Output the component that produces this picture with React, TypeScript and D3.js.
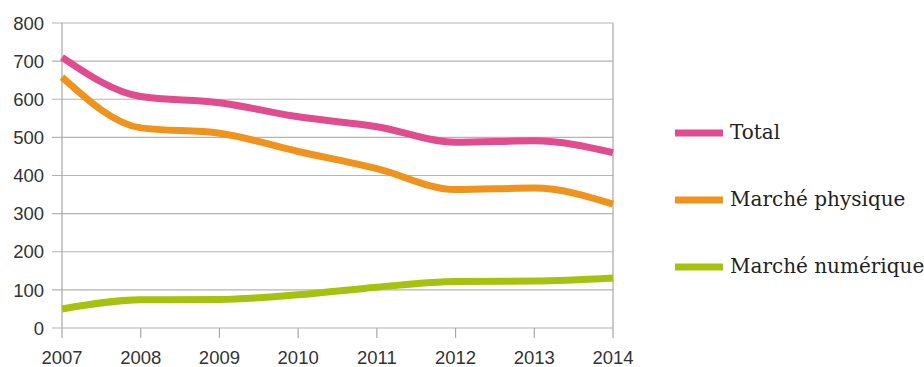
import React, { useEffect, useRef } from 'react';
import * as d3 from 'd3';

const years = [2007, 2008, 2009, 2010, 2011, 2012, 2013, 2014];
const total = [710, 607, 591, 554, 528, 487, 491, 460];
const physique = [658, 525, 511, 463, 418, 363, 367, 325];
const numerique = [50, 74, 75, 87, 107, 122, 123, 131];
const yTicks = [0, 100, 200, 300, 400, 500, 600, 700, 800];

const seriesNames = ['Total', 'Marché physique', 'Marché numérique'];
const seriesColors = ['#e04c8e', '#ef931c', '#a6c20f'];

const width = 924;
const height = 367;

const App: React.FC = () => {
  const svgRef = useRef<SVGSVGElement>(null);

  useEffect(() => {
    if (!svgRef.current) return;
    const svg = d3.select(svgRef.current);
    svg.selectAll('*').remove();

    const margin = { top: 23, right: 311, bottom: 39, left: 62 };
    const innerWidth = width - margin.left - margin.right;
    const innerHeight = height - margin.top - margin.bottom;

    const xScale = d3.scaleLinear()
      .domain([years[0], years[years.length - 1]])
      .range([0, innerWidth]);

    const yScale = d3.scaleLinear()
      .domain([0, 800])
      .range([innerHeight, 0]);

    const g = svg.append('g')
      .attr('transform', `translate(${margin.left}, ${margin.top})`);

    // horizontal grid + y labels
    g.selectAll('.grid')
      .data(yTicks)
      .enter()
      .append('line')
      .attr('x1', -10)
      .attr('x2', innerWidth)
      .attr('y1', d => yScale(d))
      .attr('y2', d => yScale(d))
      .attr('stroke', '#b4b4b4')
      .attr('stroke-width', 1.2);

    g.selectAll('.ylab')
      .data(yTicks)
      .enter()
      .append('text')
      .attr('x', -18)
      .attr('y', d => yScale(d))
      .attr('dy', '0.36em')
      .attr('text-anchor', 'end')
      .attr('font-family', 'Liberation Sans, Arial, sans-serif')
      .attr('font-size', 18.5)
      .attr('fill', '#333')
      .text(d => d);

    // left and right frame lines
    [0, innerWidth].forEach(x => {
      g.append('line')
        .attr('x1', x)
        .attr('x2', x)
        .attr('y1', 0)
        .attr('y2', innerHeight)
        .attr('stroke', '#a8a8a8')
        .attr('stroke-width', 1.2);
    });

    // x ticks + labels
    g.selectAll('.xtick')
      .data(years)
      .enter()
      .append('line')
      .attr('x1', d => xScale(d))
      .attr('x2', d => xScale(d))
      .attr('y1', innerHeight)
      .attr('y2', innerHeight + 10)
      .attr('stroke', '#a8a8a8')
      .attr('stroke-width', 1.2);

    g.selectAll('.xlab')
      .data(years)
      .enter()
      .append('text')
      .attr('x', d => xScale(d))
      .attr('y', innerHeight + 36)
      .attr('text-anchor', 'middle')
      .attr('font-family', 'Liberation Sans, Arial, sans-serif')
      .attr('font-size', 18.5)
      .attr('fill', '#333')
      .text(d => d);

    const line = d3.line<number>()
      .x((_, i) => xScale(years[i]))
      .y(d => yScale(d))
      .curve(d3.curveMonotoneX);

    [total, physique, numerique].forEach((values, i) => {
      g.append('path')
        .datum(values)
        .attr('fill', 'none')
        .attr('stroke', seriesColors[i])
        .attr('stroke-width', 7)
        .attr('d', line);
    });

    // legend
    const legend = svg.append('g').attr('transform', 'translate(675, 133)');
    seriesNames.forEach((name, i) => {
      const row = legend.append('g').attr('transform', `translate(0, ${i * 67})`);
      row.append('line')
        .attr('x1', 0)
        .attr('x2', 48)
        .attr('stroke', seriesColors[i])
        .attr('stroke-width', 7);
      row.append('text')
        .attr('x', 55)
        .attr('y', 6)
        .attr('font-family', 'DejaVu Serif, serif')
        .attr('font-size', 20)
        .attr('fill', '#222')
        .text(name);
    });
  }, []);

  return (
    <svg
      ref={svgRef}
      width={width}
      height={height}
      style={{ position: 'absolute', left: 0, top: 0, background: '#fff' }}
    />
  );
};

export default App;
